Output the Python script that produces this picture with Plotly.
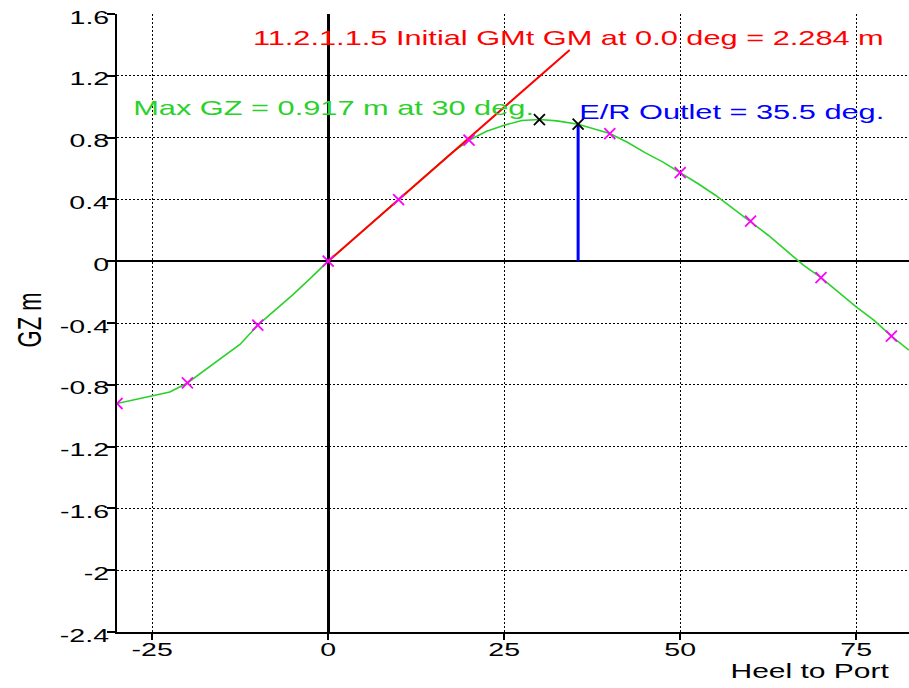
import plotly.graph_objects as go

# GZ righting-lever curve, heel to port (deg) vs GZ (m)
heel_deg = [-30, -27.5, -25, -22.5, -20, -17.5, -15, -12.5, -10, -7.5, -5, -2.5,
            0, 2.5, 5, 7.5, 10, 12.5, 15, 17.5, 20, 22.5, 25, 27.5, 30, 32.5,
            35.5, 37.5, 40, 42.5, 45, 47.5, 50, 52.5, 55, 57.5, 60, 62.5, 65,
            67.5, 70, 72.5, 75, 77.5, 80, 82.5]
gz_m = [-0.921, -0.895, -0.872, -0.846, -0.788, -0.705, -0.619, -0.537, -0.414,
        -0.317, -0.216, -0.110, 0.0, 0.100, 0.200, 0.300, 0.399, 0.500, 0.600,
        0.700, 0.783, 0.841, 0.880, 0.911, 0.917, 0.908, 0.887, 0.858, 0.826,
        0.770, 0.703, 0.643, 0.574, 0.503, 0.427, 0.341, 0.259, 0.168, 0.071,
        -0.026, -0.106, -0.199, -0.296, -0.382, -0.485, -0.576]

# Tabulated stations marked with crosses
station_deg = [-30, -20, -10, 0, 10, 20, 40, 50, 60, 70, 80]
station_gz = [-0.921, -0.788, -0.414, 0.0, 0.399, 0.783, 0.826, 0.574, 0.259, -0.106, -0.485]

# Key values
gm_initial = 2.284          # initial GMt, m
gm_line_end_deg = 34.3      # extent of the initial-GM tangent
max_gz = 0.917
max_gz_deg = 30
outlet_deg = 35.5
outlet_gz = 0.887

x_ticks = [-25, 0, 25, 50, 75]
x_tick_text = ["-25", "0", "25", "50", "75"]
y_ticks = [1.6, 1.2, 0.8, 0.4, 0, -0.4, -0.8, -1.2, -1.6, -2, -2.4]
y_tick_text = ["1.6", "1.2", "0.8", "0.4", "0", "-0.4", "-0.8", "-1.2", "-1.6", "-2", "-2.4"]

FONT = "Liberation Sans, Arial, sans-serif"
GREEN = "#2bd12b"

fig = go.Figure()

# Initial GM tangent: GZ = GM * heel(rad)
gm_x = [0, gm_line_end_deg]
gm_y = [0, gm_initial * gm_line_end_deg / 57.2958]

fig.add_trace(go.Scatter(x=heel_deg, y=gz_m, mode="lines",
                         line=dict(color=GREEN, width=1.6), hoverinfo="skip"))
fig.add_trace(go.Scatter(x=gm_x, y=gm_y, mode="lines",
                         line=dict(color="#ff0000", width=2), hoverinfo="skip"))
fig.add_trace(go.Scatter(x=[outlet_deg, outlet_deg], y=[0, outlet_gz], mode="lines",
                         line=dict(color="#0000ff", width=3), hoverinfo="skip"))
fig.add_trace(go.Scatter(x=station_deg, y=station_gz, mode="markers",
                         marker=dict(symbol="x-thin", size=11,
                                     line=dict(color="#ff00ff", width=1.8)),
                         hoverinfo="skip"))
fig.add_trace(go.Scatter(x=[max_gz_deg, outlet_deg], y=[max_gz, outlet_gz], mode="markers",
                         marker=dict(symbol="x-thin", size=11,
                                     line=dict(color="#000000", width=1.8)),
                         hoverinfo="skip"))

annotations = [
    dict(x=34.2, y=1.445, xref="x", yref="y", xanchor="center", yanchor="middle",
         text=f"11.2.1.1.5 Initial GMt GM at 0.0 deg = {gm_initial:.3f} m",
         font=dict(color="#ff0000", size=20.5, family=FONT), showarrow=False),
    dict(x=0.82, y=0.998, xref="x", yref="y", xanchor="center", yanchor="middle",
         text=f"Max GZ = {max_gz:.3f} m at {max_gz_deg} deg.",
         font=dict(color=GREEN, size=20.5, family=FONT), showarrow=False),
    dict(x=57.29, y=0.966, xref="x", yref="y", xanchor="center", yanchor="middle",
         text=f"E/R Outlet = {outlet_deg} deg.",
         font=dict(color="#0000ff", size=20.5, family=FONT), showarrow=False),
    dict(x=0.875, y=-0.0639, xref="paper", yref="paper", xanchor="center", yanchor="middle",
         text="Heel to Port", font=dict(color="#000000", size=20, family=FONT),
         showarrow=False),
    dict(x=-0.1092, y=0.505, xref="paper", yref="paper", xanchor="center", yanchor="middle",
         text="GZ m", textangle=-90, font=dict(color="#000000", size=22, family=FONT),
         showarrow=False),
]

fig.update_layout(
    width=909, height=688,
    margin=dict(l=117, r=0, t=14, b=56, pad=0),
    paper_bgcolor="white", plot_bgcolor="white",
    showlegend=False,
    font=dict(family=FONT, size=19, color="#000000"),
    annotations=annotations,
    xaxis=dict(range=[-30, 82.5], tickvals=x_ticks, ticktext=x_tick_text,
               showgrid=True, gridcolor="#000000", gridwidth=1, griddash="2px,2px",
               zeroline=True, zerolinecolor="#000000", zerolinewidth=3,
               showline=True, linecolor="#000000", linewidth=2,
               ticks="outside", ticklen=6, tickwidth=2, tickcolor="#000000",
               ticklabelstandoff=-7,
               tickfont=dict(size=19, family=FONT, color="#000000"),
               fixedrange=True),
    yaxis=dict(range=[-2.4, 1.6], tickvals=y_ticks, ticktext=y_tick_text,
               showgrid=True, gridcolor="#000000", gridwidth=1, griddash="2px,2px",
               zeroline=True, zerolinecolor="#000000", zerolinewidth=2,
               showline=True, linecolor="#000000", linewidth=2,
               ticks="outside", ticklen=8, tickwidth=1.5, tickcolor="#000000",
               ticklabelstandoff=-6,
               tickfont=dict(size=19, family=FONT, color="#000000"),
               fixedrange=True),
)

# The chart's lettering is set wide: stretch every label horizontally on screen
# about its anchor (right edge for y ticks, centre otherwise).
WIDEN_JS = """
(function(){
  var gd = document.getElementById('{plot_id}');
  var SX = 1.5;
  function widen(){
    var svg = gd.querySelector('svg.main-svg');
    if (!svg) return;
    var texts = gd.querySelectorAll('g.xtick text, g.ytick text, g.annotation text');
    texts.forEach(function(t){
      var cur = t.getAttribute('transform') || '';
      if (t.getAttribute('data-wide') === cur && cur !== '') return;
      var r = t.getBoundingClientRect();
      if (!r.width) return;
      var isY = !!t.closest('g.ytick');
      var ax = isY ? r.right : r.left + r.width / 2;
      var ay = r.top + r.height / 2;
      var dy = isY ? 3 : 0;
      var P = t.parentNode.getScreenCTM();
      var S = svg.createSVGMatrix().translate(ax, ay + dy)
                 .scaleNonUniform(SX, 1).translate(-ax, -ay);
      var base = t.transform.baseVal.consolidate();
      var T = base ? base.matrix : svg.createSVGMatrix();
      var M = P.inverse().multiply(S).multiply(P).multiply(T);
      var tf = 'matrix(' + [M.a, M.b, M.c, M.d, M.e, M.f].join(',') + ')';
      t.setAttribute('transform', tf);
      t.setAttribute('data-wide', tf);
    });
  }
  widen();
  gd.on('plotly_afterplot', widen);
})();
"""

fig.write_html("out.html", post_script=WIDEN_JS)
